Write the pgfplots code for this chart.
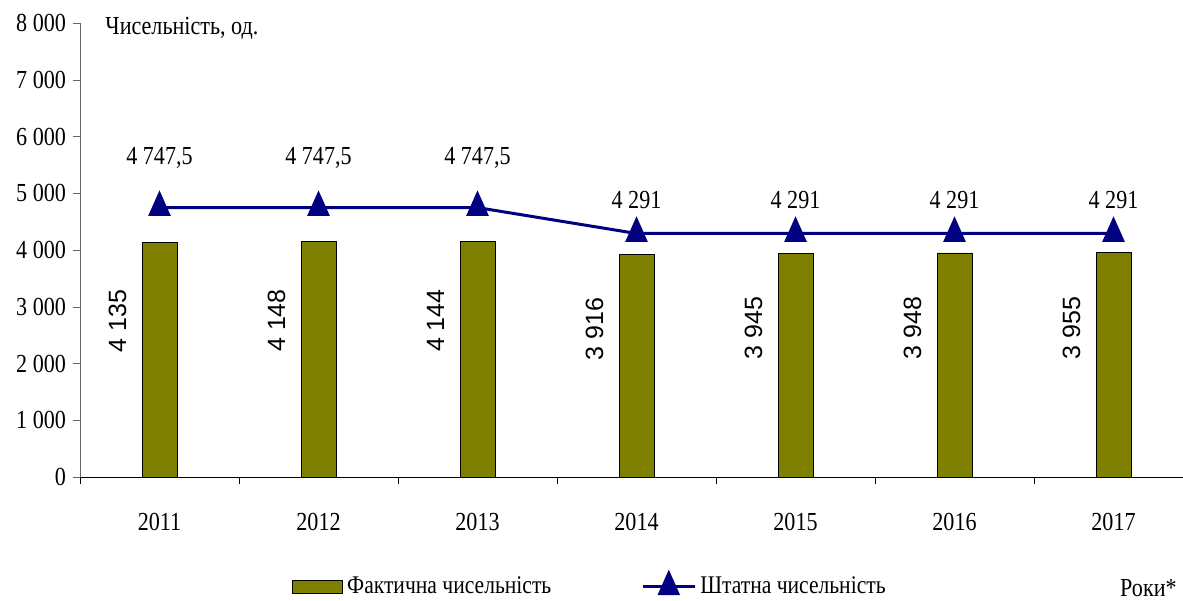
\documentclass[border=0pt]{standalone}
\usepackage{pgfplots}
\usepackage{pgfplotstable}
\pgfplotsset{compat=1.18}
\usepackage{fontspec}
\setmainfont{Liberation Serif}[FakeStretch=0.85]
\newfontfamily\lsans{Liberation Sans}
\newcommand\cf{\fontsize{13}{15}\selectfont}
\newcommand\lf{\fontsize{12.7}{15}\selectfont}
\definecolor{barolive}{RGB}{128,128,0}
\definecolor{linenavy}{RGB}{0,0,128}

\pgfplotstableread{
x v
0 4135
1 4148
2 4144
3 3916
4 3945
5 3948
6 3955
}\fact
\pgfplotstableread{
x v
0 4747.5
1 4747.5
2 4747.5
3 4291
4 4291
5 4291
6 4291
}\shtat
% label positions (rotated labels of bars)
\pgfplotstableread{
x y label
-0.264 2750 {4 135}
0.736 2758 {4 148}
1.736 2756 {4 144}
2.736 2604 {3 916}
3.736 2623 {3 945}
4.736 2625 {3 948}
5.736 2630 {3 955}
}\factlab
\pgfplotstableread{
x y label
0 5621 {4 747,5}
1 5621 {4 747,5}
2 5621 {4 747,5}
3 4881 {4 291}
4 4881 {4 291}
5 4881 {4 291}
6 4881 {4 291}
}\shtatlab

\begin{document}
\begin{tikzpicture}
\begin{axis}[
  at={(40pt,61.5pt)}, anchor=south west,
  scale only axis, width=551.5pt, height=227pt,
  xmin=-0.5, xmax=6.437, ymin=0, ymax=8000,
  axis x line*=bottom, axis y line*=left,
  x axis line style={black, -}, y axis line style={gray!80!black, -},
  xtick={0,...,6}, xticklabels={2011,2012,2013,2014,2015,2016,2017},
  xtick style={draw=none},
  xticklabel style={yshift=-11pt},
  extra x ticks={-0.5,0.5,1.5,2.5,3.5,4.5,5.5},
  extra x tick labels={},
  extra x tick style={xtick style={draw=black}, tick align=outside, major tick length=3.5pt},
  ytick={0,1000,...,8000},
  yticklabels={0,1 000,2 000,3 000,4 000,5 000,6 000,7 000,8 000},
  ytick style={gray!80!black},
  tick align=outside, major tick length=3.5pt,
  tick label style={font=\cf},
  legend style={at={(0.4633,-0.242)}, anchor=center, draw=none, fill=none,
    legend columns=2, font=\lf, inner sep=0pt,
    /tikz/every even column/.append style={column sep=43pt}},
  legend cell align=left,
]
\addplot[ybar, bar width=17.5pt, fill=barolive, draw=black,
  legend image code/.code={\draw[fill=barolive, draw=black] (0pt,-3.25pt) rectangle (25pt,3.25pt);}]
  table[x=x, y=v] {\fact};
\addlegendentry{Фактична чисельність}
\addplot[linenavy, line width=1.5pt, mark=triangle*, mark size=5.2pt,
  mark options={yscale=1.3, solid},
  legend image code/.code={\draw[linenavy, line width=1.5pt, mark=triangle*, mark size=5.2pt, mark options={yscale=1.3}, mark repeat=2, mark phase=2] plot coordinates {(0pt,0pt) (13pt,0pt) (26pt,0pt)};}]
  table[x=x, y=v] {\shtat};
\addlegendentry{Штатна чисельність}
\addplot[draw=none, forget plot, nodes near coords, point meta=explicit symbolic,
  every node near coord/.style={anchor=center, rotate=90, font=\lsans\fontsize{12.5}{14}\selectfont, inner sep=0pt}]
  table[x=x, y=y, meta=label] {\factlab};
\addplot[draw=none, forget plot, nodes near coords, point meta=explicit symbolic,
  every node near coord/.style={anchor=center, font=\cf, inner sep=0pt}]
  table[x=x, y=y, meta=label] {\shtatlab};
\end{axis}
\node[anchor=west, font=\cf, inner sep=0pt] at (52.5pt,286pt) {Чисельність, од.};
\node[anchor=east, font=\cf, inner sep=0pt] at (588.5pt,6pt) {Роки*};
\pgfresetboundingbox
\path (0,0) rectangle (591.5pt,300pt);
\end{tikzpicture}
\end{document}
